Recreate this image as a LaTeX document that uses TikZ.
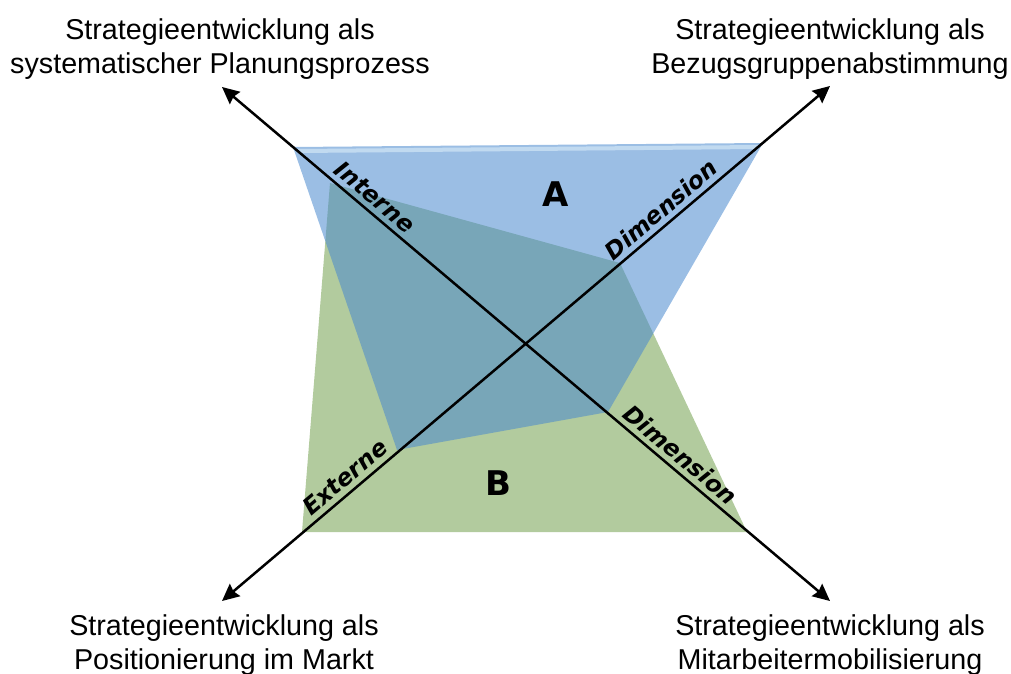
\documentclass[tikz,border=0pt]{standalone}
\usepackage{fontspec}
\setmainfont{Liberation Sans}
\newfontfamily\dimfont{DejaVu Sans}[BoldFont={DejaVu Sans Bold},BoldItalicFont={DejaVu Sans Bold Oblique}]
\usetikzlibrary{arrows.meta}
\definecolor{fieldA}{RGB}{73,137,206}
\definecolor{fieldB}{RGB}{178,203,158}
\definecolor{fieldAedge}{RGB}{210,230,246}

\begin{document}
\begin{tikzpicture}[x=1pt,y=-1pt]

    % Define some common styles
    \tikzset{
        axisline/.style={line width=2.5pt, {Stealth[length=17pt,width=16pt,inset=2pt]}-{Stealth[length=17pt,width=16pt,inset=2pt]}},
        dimtext/.style={sloped, above=5pt, inner sep=0pt, font=\dimfont\bfseries\itshape\fontsize{23.5}{24}\selectfont},
        field/.style={font=\dimfont\bfseries\fontsize{34}{34}\selectfont},
        goal/.style={align=center, inner sep=0pt, font=\fontsize{28.7}{34}\selectfont}
    }

    \useasboundingbox (0,0) rectangle (1011,673);

    % Ends of the two axes
    \coordinate (planTip) at (222,87);
    \coordinate (mobTip) at (830,601);
    \coordinate (bezTip) at (830,86);
    \coordinate (posTip) at (222,601);

    % Field B (green) and field A (blue, transparent)
    \fill[fieldB] (330,183) -- (620,263) -- (747,532) -- (302,532) -- cycle;
    \fill[fieldA, opacity=0.55] (293,147) -- (763,143) -- (608,412) -- (397,450) -- cycle;
    \draw[fieldAedge, line width=4pt, opacity=0.7] (298,151) -- (758,147);

    % Internal and external dimension
    \draw[axisline] (planTip) -- (mobTip)
        node[dimtext, pos=0.236] (interne) {Interne}
        node[dimtext, pos=0.738] (dimIn) {Dimension};
    \draw[axisline] (posTip) -- (bezTip)
        node[dimtext, pos=0.218] (externe) {Externe}
        node[dimtext, pos=0.738] (dimEx) {Dimension};

    % Field letters
    \node[field] (fieldA) at (556,194) {A};
    \node[field] (fieldB) at (498,483) {B};

    % Labels at the arrow tips (anchored at the last baseline)
    \node[goal, anchor=base] (plan) at (220,73) {Strategieentwicklung als\\systematischer Planungsprozess};
    \node[goal, anchor=base] (bezug) at (830,73) {Strategieentwicklung als\\Bezugsgruppenabstimmung};
    \node[goal, anchor=base] (markt) at (224,669) {Strategieentwicklung als\\Positionierung im Markt};
    \node[goal, anchor=base] (mitarb) at (830,669) {Strategieentwicklung als\\Mitarbeitermobilisierung};

\end{tikzpicture}
\end{document}
